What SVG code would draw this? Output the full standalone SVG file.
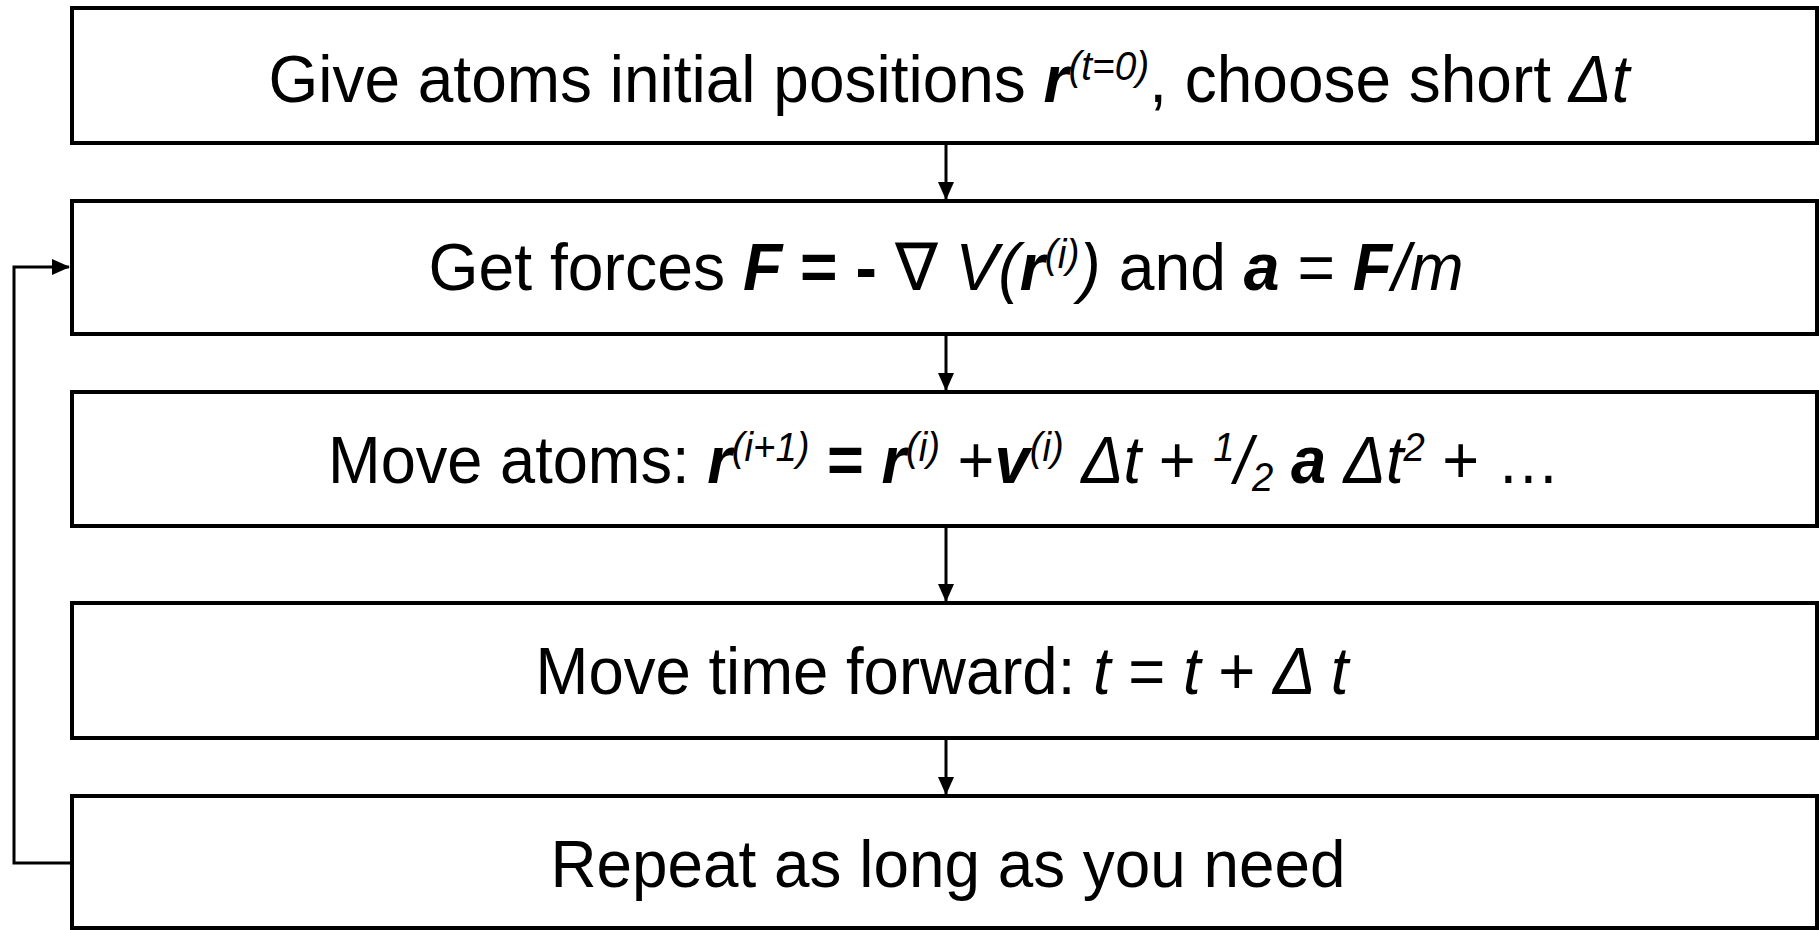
<svg xmlns="http://www.w3.org/2000/svg" width="1819" height="930" viewBox="0 0 1819 930">
<style>
.box{fill:#fff;stroke:#000;stroke-width:4}
.t{font-family:"Liberation Sans",Arial,sans-serif;font-size:66px;fill:#000}
.i{font-style:italic}
.b{font-weight:bold}
.sup{font-size:40px;font-style:italic}
.con{fill:none;stroke:#000;stroke-width:3}
</style>
<defs>
<marker id="ah" markerWidth="18" markerHeight="16" refX="17" refY="8" orient="auto" markerUnits="userSpaceOnUse">
<path d="M0,0 L18,8 L0,16 Z" fill="#000"/>
</marker>
</defs>
<rect width="1819" height="930" fill="#fff"/>
<g id="connectors">
<line class="con" x1="946" y1="144" x2="946" y2="199" marker-end="url(#ah)"/>
<line class="con" x1="946" y1="335" x2="946" y2="390" marker-end="url(#ah)"/>
<line class="con" x1="946" y1="527" x2="946" y2="601" marker-end="url(#ah)"/>
<line class="con" x1="946" y1="739" x2="946" y2="794" marker-end="url(#ah)"/>
<polyline class="con" points="72,863 14,863 14,267 69,267" marker-end="url(#ah)"/>
</g>
<g id="n1">
<rect class="box" x="72" y="8" width="1745" height="135"/>
<text class="t" x="949" y="102" text-anchor="middle" textLength="1361" lengthAdjust="spacingAndGlyphs">Give atoms initial positions <tspan class="i b">r</tspan><tspan class="sup" baseline-shift="22">(t=0)</tspan>, choose short <tspan class="i">Δt</tspan></text>
</g>
<g id="n2">
<rect class="box" x="72" y="201" width="1745" height="133"/>
<text class="t" x="946" y="290" text-anchor="middle" textLength="1035" lengthAdjust="spacingAndGlyphs">Get forces <tspan class="i b">F</tspan><tspan class="b"> = -</tspan> ∇ <tspan class="i">V(</tspan><tspan class="i b">r</tspan><tspan class="sup" baseline-shift="22">(i)</tspan><tspan class="i">)</tspan> and <tspan class="i b">a</tspan> = <tspan class="i b">F</tspan><tspan class="i">/m</tspan></text>
</g>
<g id="n3">
<rect class="box" x="72" y="392" width="1745" height="134"/>
<text class="t" x="944" y="483" text-anchor="middle" textLength="1232" lengthAdjust="spacingAndGlyphs">Move atoms: <tspan class="i b">r</tspan><tspan class="sup" baseline-shift="22">(i+1)</tspan><tspan class="b"> = </tspan><tspan class="i b">r</tspan><tspan class="sup" baseline-shift="22">(i)</tspan> +<tspan class="i b">v</tspan><tspan class="sup" baseline-shift="22">(i)</tspan><tspan class="i"> Δt</tspan> + <tspan class="sup" baseline-shift="22">1</tspan><tspan class="i">/</tspan><tspan class="sup" baseline-shift="-8">2</tspan> <tspan class="i b">a</tspan><tspan class="i"> Δt</tspan><tspan class="sup" baseline-shift="22">2</tspan> + …</text>
</g>
<g id="n4">
<rect class="box" x="72" y="603" width="1745" height="135"/>
<text class="t" x="942" y="694" text-anchor="middle" textLength="813" lengthAdjust="spacingAndGlyphs">Move time forward: <tspan class="i">t</tspan> = <tspan class="i">t</tspan> + <tspan class="i">Δ t</tspan></text>
</g>
<g id="n5">
<rect class="box" x="72" y="796" width="1745" height="132"/>
<text class="t" x="948" y="887" text-anchor="middle" textLength="795" lengthAdjust="spacingAndGlyphs">Repeat as long as you need</text>
</g>
</svg>
